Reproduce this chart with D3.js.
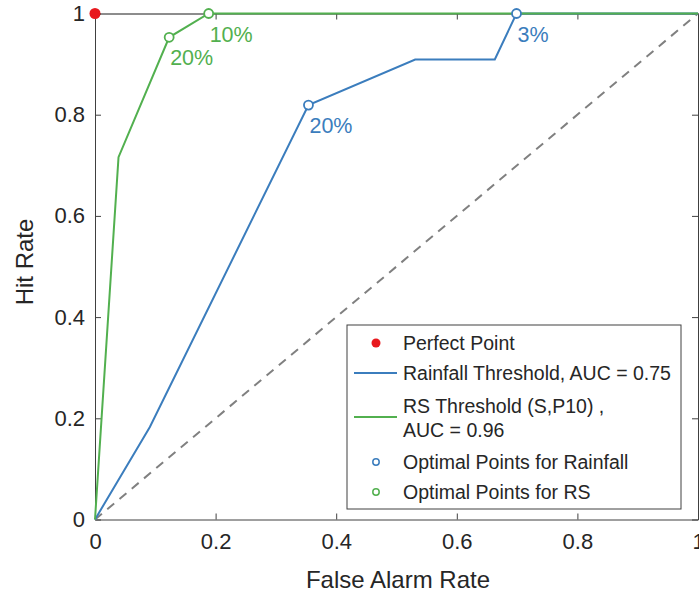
<!DOCTYPE html>
<html>
<head>
<meta charset="utf-8">
<script src="https://cdn.jsdelivr.net/npm/d3@7"></script>
<style>
  body { margin: 0; background: #fff; }
  text { font-family: "Liberation Sans", Arial, sans-serif; }
</style>
</head>
<body>
<script>
// ROC curves
const rainFar = [0, 0.091, 0.354, 0.531, 0.663, 0.699, 1];
const rainHit = [0, 0.183, 0.819, 0.909, 0.909, 1, 1];
const rsFar = [0, 0.039, 0.123, 0.1885, 1];
const rsHit = [0, 0.716, 0.953, 1, 1];

// optimal points and their labels
const rainOptFar = [0.354, 0.699];
const rainOptHit = [0.819, 1];
const rainOptLab = ['20%', '3%'];
const rsOptFar = [0.123, 0.1885];
const rsOptHit = [0.953, 1];
const rsOptLab = ['20%', '10%'];

const ticks = [0, 0.2, 0.4, 0.6, 0.8, 1];

const legendLabels = [
  'Perfect Point',
  'Rainfall Threshold, AUC = 0.75',
  'RS Threshold (S,P10) ,',
  'AUC = 0.96',
  'Optimal Points for Rainfall',
  'Optimal Points for RS'
];

const blue = '#3b7dbd';
const green = '#52b04f';
const red = '#e8191e';
const axisCol = '#404040';

const W = 699, H = 595;
const m = { left: 95, top: 13.5, right: 1, bottom: 75.5 };

const svg = d3.select('body').append('svg')
  .attr('width', W)
  .attr('height', H);

const x = d3.scaleLinear().domain([0, 1]).range([m.left, W - m.right]);
const y = d3.scaleLinear().domain([0, 1]).range([H - m.bottom, m.top]);

// axes box with inward ticks (MATLAB style)
const g = svg.append('g');

g.append('g')
  .attr('transform', `translate(0,${y(0)})`)
  .call(d3.axisBottom(x).tickValues(ticks).tickSizeInner(-6).tickSizeOuter(0).tickPadding(14)
    .tickFormat(d3.format('~g')));
g.append('g')
  .attr('transform', `translate(${x(0)},0)`)
  .call(d3.axisLeft(y).tickValues(ticks).tickSizeInner(-6).tickSizeOuter(0).tickPadding(10)
    .tickFormat(d3.format('~g')));
const topAx = g.append('g')
  .attr('transform', `translate(0,${y(1)})`)
  .call(d3.axisTop(x).tickValues(ticks).tickSizeInner(-6).tickSizeOuter(0).tickFormat(''));
g.append('g')
  .attr('transform', `translate(${x(1)},0)`)
  .call(d3.axisRight(y).tickValues(ticks).tickSizeInner(-6).tickSizeOuter(0).tickFormat(''));

g.selectAll('.domain').attr('stroke', axisCol).attr('stroke-width', 1);
g.selectAll('.tick line').attr('stroke', axisCol);
g.selectAll('.tick text')
  .attr('fill', '#262626')
  .style('font-size', '22px');
// top edge darker, as in the picture
topAx.select('.domain').attr('stroke', '#1a1a1a');

// axis labels
svg.append('text')
  .attr('x', 398)
  .attr('y', 588)
  .attr('text-anchor', 'middle')
  .attr('fill', '#262626')
  .style('font-size', '24px')
  .text('False Alarm Rate');

svg.append('text')
  .attr('transform', `translate(33,262) rotate(-90)`)
  .attr('text-anchor', 'middle')
  .attr('fill', '#262626')
  .style('font-size', '24px')
  .text('Hit Rate');

// chance line
svg.append('line')
  .attr('x1', x(0)).attr('y1', y(0))
  .attr('x2', x(1)).attr('y2', y(1))
  .attr('stroke', '#808080')
  .attr('stroke-width', 2)
  .attr('stroke-dasharray', '9,7');

const line = d3.line().x(d => x(d[0])).y(d => y(d[1]));

svg.append('path')
  .datum(d3.zip(rainFar, rainHit))
  .attr('d', line)
  .attr('fill', 'none')
  .attr('stroke', blue)
  .attr('stroke-width', 2);

svg.append('path')
  .datum(d3.zip(rsFar, rsHit))
  .attr('d', line)
  .attr('fill', 'none')
  .attr('stroke', green)
  .attr('stroke-width', 2);

// perfect point
svg.append('circle')
  .attr('cx', x(0)).attr('cy', y(1)).attr('r', 5.5)
  .attr('fill', red);

const drawOpt = (fa, hi, lab, col) => {
  const pts = d3.zip(fa, hi, lab);
  svg.selectAll(null).data(pts).enter().append('circle')
    .attr('cx', d => x(d[0])).attr('cy', d => y(d[1])).attr('r', 4.5)
    .attr('fill', '#fff')
    .attr('stroke', col)
    .attr('stroke-width', 1.8);
  svg.selectAll(null).data(pts).enter().append('text')
    .attr('x', d => x(d[0]) + 1)
    .attr('y', d => y(d[1]) + 28)
    .attr('fill', col)
    .style('font-size', '21.5px')
    .text(d => d[2]);
};
drawOpt(rainOptFar, rainOptHit, rainOptLab, blue);
drawOpt(rsOptFar, rsOptHit, rsOptLab, green);

// legend
const lg = svg.append('g').attr('transform', 'translate(347,325)');
lg.append('rect')
  .attr('width', 334).attr('height', 184)
  .attr('fill', '#fff')
  .attr('stroke', '#404040')
  .attr('stroke-width', 1);

const rowY = [18, 48, 81, 105, 137, 167];
const tx = 56;
legendLabels.forEach((t, i) => {
  lg.append('text')
    .attr('x', tx).attr('y', rowY[i])
    .attr('dy', '0.35em')
    .attr('fill', '#262626')
    .style('font-size', '19.5px')
    .text(t);
});
lg.append('circle').attr('cx', 29).attr('cy', rowY[0]).attr('r', 4.5).attr('fill', red);
lg.append('line').attr('x1', 7).attr('x2', 50).attr('y1', rowY[1]).attr('y2', rowY[1])
  .attr('stroke', blue).attr('stroke-width', 2);
lg.append('line').attr('x1', 7).attr('x2', 50).attr('y1', 92).attr('y2', 92)
  .attr('stroke', green).attr('stroke-width', 2);
lg.append('circle').attr('cx', 29).attr('cy', rowY[4]).attr('r', 3.2)
  .attr('fill', '#fff').attr('stroke', blue).attr('stroke-width', 1.5);
lg.append('circle').attr('cx', 29).attr('cy', rowY[5]).attr('r', 3.2)
  .attr('fill', '#fff').attr('stroke', green).attr('stroke-width', 1.5);
</script>
</body>
</html>
